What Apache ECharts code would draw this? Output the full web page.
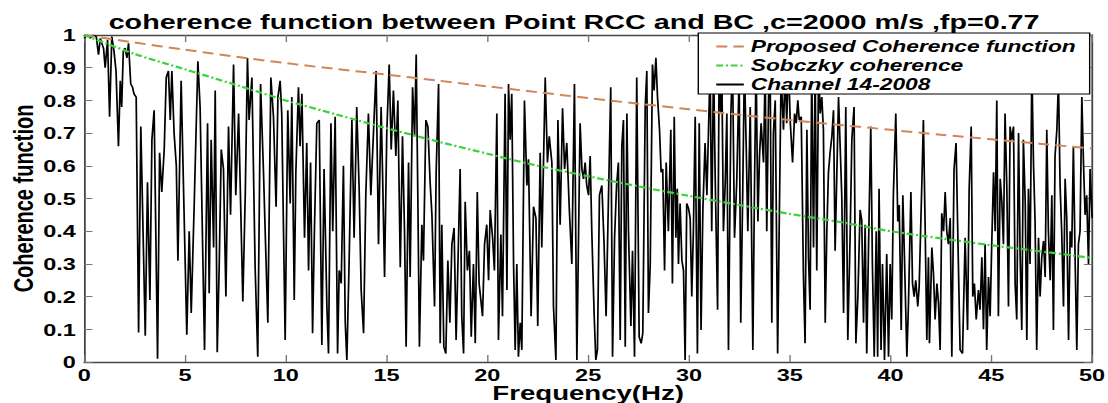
<!DOCTYPE html>
<html>
<head>
<meta charset="utf-8">
<title>coherence function</title>
<script src="https://cdn.jsdelivr.net/npm/echarts@6/dist/echarts.min.js"></script>
<style>
  html, body { margin: 0; padding: 0; background: #fff; overflow: hidden; }
  /* the source figure is stretched sideways, so the chart is drawn narrower and widened */
  #chart { width: 803px; height: 403px; transform: scaleX(1.38); transform-origin: 0 0; }
</style>
</head>
<body>
<div id="chart"></div>
<script>
const FONT = "'Liberation Sans', Arial, sans-serif";

const xTicks = [0, 5, 10, 15, 20, 25, 30, 35, 40, 45, 50];

// smooth model curves, read every 2.5 Hz
const curveFreq = [0, 2.5, 5, 7.5, 10, 12.5, 15, 17.5, 20, 22.5, 25, 27.5, 30, 32.5, 35, 37.5, 40, 42.5, 45, 47.5, 50];
const proposedCoh = [1.0, 0.977, 0.955, 0.934, 0.914, 0.896, 0.879, 0.861, 0.843, 0.825, 0.807, 0.79, 0.773, 0.756, 0.74, 0.725, 0.71, 0.695, 0.681, 0.667, 0.653];
const sobczkyCoh = [1.0, 0.942, 0.895, 0.848, 0.8, 0.757, 0.715, 0.675, 0.637, 0.6, 0.568, 0.537, 0.508, 0.48, 0.453, 0.428, 0.4, 0.378, 0.357, 0.338, 0.318];

// measured coherence, channel 14-2008: [Hz, coherence], one array per 5 Hz band
const band00 = [[0,0.99],[0.15,1.0],[0.3,0.99],[0.45,1.0],[0.6,0.995],[0.71,0.94],[0.8,0.99],[0.9,0.97],[0.96,0.96],[1.04,0.9],[1.16,0.985],[1.26,0.75],[1.37,0.995],[1.48,0.95],[1.58,0.89],[1.7,0.66],[1.79,0.86],[1.86,0.78],[1.94,0.95],[2.03,0.96],[2.12,0.93],[2.2,0.975],[2.31,0.85],[2.4,0.84],[2.47,0.82],[2.58,0.81],[2.7,0.09],[2.81,0.72],[2.92,0.4],[3.03,0.08],[3.14,0.55],[3.26,0.19],[3.36,0.68],[3.47,0.77],[3.64,0.01],[3.74,0.64],[3.85,0.52],[3.97,0.65],[4.07,0.87],[4.18,0.89],[4.27,0.74],[4.35,0.89],[4.46,0.7],[4.57,0.6],[4.65,0.31],[4.81,0.86]];
const band05 = [[5.09,0.083],[5.21,0.4],[5.31,0.15],[5.47,0.51],[5.64,0.92],[5.75,0.78],[5.97,0.037],[6.12,0.73],[6.2,0.21],[6.3,0.68],[6.42,0.35],[6.5,0.83],[6.6,0.03],[6.7,0.3],[6.8,0.65],[6.91,0.59],[7.03,0.2],[7.16,0.72],[7.26,0.45],[7.41,0.91],[7.52,0.51],[7.66,0.76],[7.87,0.185],[7.99,0.51],[8.1,0.93],[8.18,0.74],[8.32,0.87],[8.48,0.29],[8.61,0.016],[8.75,0.85],[8.89,0.59],[9.11,0.12],[9.26,0.87],[9.39,0.75],[9.52,0.475],[9.61,0.81],[9.72,0.86],[9.8,0.76],[9.97,0.067]];
const band10 = [[10.1,0.77],[10.22,0.485],[10.3,0.81],[10.42,0.19],[10.5,0.58],[10.63,0.84],[10.71,0.66],[10.8,0.82],[10.93,0.38],[11.04,0.67],[11.13,0.28],[11.23,0.61],[11.33,0.088],[11.42,0.4],[11.54,0.73],[11.66,0.74],[11.79,0.052],[11.9,0.59],[12.04,0.17],[12.12,0.026],[12.24,0.73],[12.33,0.4],[12.45,0.75],[12.57,0.026],[12.65,0.28],[12.75,0.24],[12.86,0.6],[12.95,0.12],[13.03,0.006],[13.14,0.3],[13.28,0.74],[13.39,0.38],[13.52,0.78],[13.64,0.53],[13.74,0.22],[13.86,0.088],[13.97,0.51],[14.1,0.76],[14.22,0.51],[14.35,0.7],[14.48,0.89],[14.6,0.36],[14.73,0.78],[14.8,0.58],[14.9,0.26]];
const band15 = [[15.01,0.7],[15.13,0.91],[15.23,0.65],[15.34,0.83],[15.46,0.63],[15.56,0.8],[15.68,0.29],[15.79,0.69],[15.89,0.4],[15.97,0.047],[16.09,0.61],[16.17,0.26],[16.29,0.84],[16.39,0.69],[16.47,0.94],[16.55,0.51],[16.63,0.047],[16.75,0.42],[16.83,0.31],[16.95,0.74],[17.05,0.72],[17.16,0.55],[17.25,0.45],[17.38,0.17],[17.46,0.58],[17.58,0.85],[17.66,0.057],[17.74,0.42],[17.84,0.047],[17.94,0.026],[18.04,0.31],[18.14,0.12],[18.24,0.36],[18.35,0.41],[18.45,0.067],[18.54,0.3],[18.65,0.59],[18.73,0.14],[18.82,0.026],[18.9,0.49],[19.01,0.28],[19.11,0.34],[19.2,0.077],[19.31,0.3],[19.4,0.057],[19.5,0.52],[19.59,0.24],[19.66,0.2],[19.76,0.14],[19.86,0.36],[19.97,0.42]];
const band20 = [[20.06,0.25],[20.14,0.465],[20.26,0.38],[20.35,0.28],[20.47,0.76],[20.55,0.067],[20.67,0.39],[20.75,0.14],[20.88,0.82],[20.97,0.22],[21.05,0.85],[21.13,0.68],[21.21,0.82],[21.3,0.3],[21.38,0.037],[21.46,0.3],[21.54,0.016],[21.63,0.12],[21.71,0.037],[21.84,0.8],[21.96,0.54],[22.04,0.62],[22.17,0.14],[22.29,0.475],[22.41,0.44],[22.5,0.11],[22.62,0.64],[22.7,0.35],[22.87,0.87],[22.98,0.61],[23.07,0.69],[23.2,0.61],[23.28,0.17],[23.4,0.006],[23.5,0.74],[23.61,0.42],[23.73,0.776],[23.83,0.59],[23.94,0.67],[24.06,0.475],[24.19,0.3],[24.32,0.85],[24.44,0.006],[24.6,0.73],[24.69,0.59],[24.77,0.56],[24.85,0.61],[24.93,0.54]];
const band25 = [[25.02,0.51],[25.1,0.63],[25.18,0.4],[25.3,0.14],[25.38,0.006],[25.46,0.037],[25.56,0.51],[25.68,0.54],[25.79,0.36],[25.89,0.14],[26.01,0.51],[26.12,0.84],[26.21,0.016],[26.31,0.38],[26.41,0.54],[26.5,0.61],[26.59,0.067],[26.67,0.66],[26.75,0.74],[26.84,0.047],[26.92,0.76],[27,0.4],[27.12,0.11],[27.2,0.34],[27.3,0.016],[27.41,0.87],[27.53,0.077],[27.63,0.057],[27.71,0.088],[27.83,0.78],[27.91,0.89],[27.99,0.15],[28.08,0.3],[28.19,0.91],[28.27,0.83],[28.36,0.93],[28.44,0.81],[28.54,0.71],[28.62,0.58],[28.7,0.59],[28.79,0.28],[28.87,0.61],[28.98,0.4],[29.1,0.71],[29.18,0.24],[29.27,0.75],[29.35,0.38],[29.42,0.53],[29.48,0.3],[29.56,0.485],[29.65,0.31],[29.73,0.28],[29.81,0.006],[29.89,0.485]];
const band30 = [[29.98,0.47],[30.06,0.44],[30.14,0.2],[30.22,0.4],[30.31,0.75],[30.42,0.026],[30.51,0.73],[30.6,0.098],[30.69,0.465],[30.8,0.67],[30.89,0.51],[30.97,0.71],[31.05,0.9],[31.13,0.4],[31.22,0.92],[31.3,0.57],[31.42,0.16],[31.5,0.93],[31.58,0.76],[31.63,0.9],[31.71,0.4],[31.8,0.55],[31.88,0.76],[31.96,0.037],[32.08,0.76],[32.16,0.92],[32.26,0.38],[32.37,0.55],[32.49,0.88],[32.57,0.12],[32.67,0.53],[32.75,0.91],[32.84,0.66],[32.92,0.4],[33.04,0.78],[33.17,0.037],[33.25,0.53],[33.33,0.92],[33.42,0.43],[33.5,0.63],[33.58,0.73],[33.7,0.61],[33.78,0.9],[33.86,0.4],[33.95,0.81],[34.03,0.88],[34.11,0.12],[34.19,0.7],[34.28,0.8],[34.4,0.026],[34.57,0.88],[34.69,0.71],[34.77,0.9],[34.85,0.73],[34.94,0.92]];
const band35 = [[35.02,0.74],[35.14,0.61],[35.24,0.76],[35.32,0.73],[35.4,0.8],[35.47,0.74],[35.57,0.75],[35.68,0.26],[35.76,0.057],[35.85,0.71],[35.93,0.32],[36.01,0.16],[36.09,0.9],[36.18,0.35],[36.26,0.91],[36.34,0.28],[36.43,0.9],[36.51,0.76],[36.59,0.81],[36.67,0.71],[36.76,0.12],[36.84,0.4],[36.92,0.58],[37,0.64],[37.09,0.69],[37.17,0.77],[37.25,0.34],[37.33,0.56],[37.42,0.81],[37.5,0.66],[37.58,0.51],[37.67,0.15],[37.78,0.78],[37.88,0.067],[38,0.4],[38.08,0.68],[38.19,0.78],[38.28,0.057],[38.38,0.2],[38.49,0.465],[38.57,0.435],[38.66,0.12],[38.74,0.42],[38.82,0.026],[38.91,0.36],[39.02,0.72],[39.1,0.3],[39.19,0.016],[39.29,0.4],[39.36,0.016],[39.43,0.53],[39.53,0.037],[39.6,0.3],[39.7,0.006],[39.81,0.33],[39.9,0.016],[39.98,0.3]];
const band40 = [[40.06,0.13],[40.14,0.51],[40.26,0.76],[40.36,0.43],[40.43,0.48],[40.53,0.098],[40.61,0.51],[40.69,0.32],[40.81,0.016],[40.89,0.18],[41.01,0.52],[41.09,0.24],[41.17,0.2],[41.25,0.25],[41.35,0.17],[41.42,0.23],[41.55,0.54],[41.63,0.74],[41.72,0.4],[41.8,0.067],[41.88,0.32],[41.93,0.057],[42.05,0.35],[42.13,0.27],[42.21,0.13],[42.3,0.24],[42.38,0.18],[42.46,0.037],[42.54,0.455],[42.63,0.4],[42.71,0.52],[42.79,0.4],[42.87,0.36],[42.96,0.44],[43.04,0.016],[43.15,0.59],[43.25,0.67],[43.34,0.38],[43.45,0.037],[43.57,0.026],[43.7,0.38],[43.82,0.098],[43.9,0.53],[44,0.72],[44.08,0.2],[44.16,0.24],[44.25,0.13],[44.36,0.22],[44.44,0.16],[44.53,0.32],[44.61,0.1],[44.69,0.36],[44.77,0.037],[44.86,0.26],[44.94,0.14]];
const band45 = [[45.02,0.36],[45.11,0.58],[45.19,0.4],[45.27,0.8],[45.35,0.14],[45.44,0.56],[45.52,0.49],[45.6,0.36],[45.68,0.76],[45.77,0.53],[45.85,0.17],[45.93,0.72],[46.01,0.68],[46.1,0.72],[46.18,0.24],[46.26,0.13],[46.35,0.7],[46.43,0.32],[46.51,0.098],[46.59,0.68],[46.68,0.49],[46.76,0.067],[46.84,0.53],[46.92,0.3],[47.01,0.9],[47.09,0.61],[47.17,0.43],[47.25,0.037],[47.34,0.38],[47.42,0.2],[47.5,0.32],[47.59,0.37],[47.67,0.26],[47.75,0.71],[47.83,0.4],[47.92,0.25],[48,0.51],[48.08,0.098],[48.16,0.63],[48.25,0.71],[48.33,0.86],[48.41,0.54],[48.49,0.4],[48.58,0.17],[48.66,0.56],[48.74,0.44],[48.83,0.067],[48.91,0.4],[48.99,0.35],[49.07,0.66],[49.16,0.3],[49.24,0.037],[49.32,0.36],[49.4,0.4],[49.49,0.81],[49.57,0.61],[49.65,0.45],[49.73,0.51],[49.82,0.3],[49.9,0.59],[50,0.44]];

const channelData = [].concat(band00, band05, band10, band15, band20, band25, band30, band35, band40, band45);
const proposedData = curveFreq.map((f, i) => [f, proposedCoh[i]]);
const sobczkyData = curveFreq.map((f, i) => [f, sobczkyCoh[i]]);

const chart = echarts.init(document.getElementById('chart'), null, { renderer: 'svg' });

const boxLine = { show: true, onZero: false, lineStyle: { color: '#444', width: 1.3 } };
const labelStyle = { color: '#000', fontWeight: 'bold', fontSize: 17, fontFamily: FONT };
const nameStyle = { color: '#000', fontWeight: 'bold', fontSize: 20, fontFamily: FONT };

chart.setOption({
  animation: false,
  backgroundColor: '#fff',
  title: {
    text: 'coherence function between Point RCC and BC ,c=2000 m/s ,fp=0.77',
    left: 416,
    top: 11,
    padding: 0,
    textAlign: 'center',
    textStyle: { color: '#000', fontWeight: 'bold', fontSize: 20.8, fontFamily: FONT }
  },
  legend: {
    data: ['Proposed Coherence function', 'Sobczky coherence', 'Channel 14-2008'],
    orient: 'vertical',
    left: 506,
    top: 33,
    padding: [5, 10, 1, 12],
    itemGap: 2,
    itemWidth: 20,
    itemHeight: 1,
    borderColor: '#000',
    borderWidth: 1,
    borderRadius: 0,
    backgroundColor: '#fff',
    textStyle: { color: '#000', fontSize: 16.5, fontStyle: 'italic', fontWeight: 'bold', fontFamily: FONT }
  },
  grid: {
    left: 61,
    right: 11.6,
    top: 35,
    bottom: 41,
    containLabel: false,
    outerBoundsMode: 'none'
  },
  xAxis: [
    {
      type: 'value',
      min: 0,
      max: 50,
      interval: 5,
      position: 'bottom',
      axisLine: boxLine,
      axisTick: { show: true, inside: true, length: 7, lineStyle: { color: '#777' } },
      axisLabel: Object.assign({ margin: 4, formatter: v => xTicks.includes(v) ? String(v) : '' }, labelStyle),
      splitLine: { show: false },
      name: 'Frequency(Hz)',
      nameLocation: 'middle',
      nameGap: 21,
      nameMoveOverlap: false,
      nameTextStyle: nameStyle
    },
    {
      type: 'value',
      min: 0,
      max: 50,
      interval: 5,
      position: 'top',
      axisLine: boxLine,
      axisTick: { show: true, inside: true, length: 7, lineStyle: { color: '#777' } },
      axisLabel: { show: false },
      splitLine: { show: false }
    }
  ],
  yAxis: [
    {
      type: 'value',
      min: 0,
      max: 1,
      interval: 0.1,
      position: 'left',
      axisLine: boxLine,
      axisTick: { show: true, inside: true, length: 6, lineStyle: { color: '#777' } },
      axisLabel: Object.assign({ margin: 6 }, labelStyle),
      splitLine: { show: false },
      name: 'Coherence function',
      nameLocation: 'middle',
      nameRotate: 90,
      nameGap: 34,
      nameMoveOverlap: false,
      nameTextStyle: nameStyle
    },
    {
      type: 'value',
      min: 0,
      max: 1,
      interval: 0.1,
      position: 'right',
      axisLine: boxLine,
      axisTick: { show: true, inside: true, length: 6, lineStyle: { color: '#777' } },
      axisLabel: { show: false },
      splitLine: { show: false }
    }
  ],
  series: [
    {
      name: 'Channel 14-2008',
      type: 'line',
      data: channelData,
      symbol: 'none',
      lineStyle: { color: '#000', width: 1.25 },
      itemStyle: { color: '#000' },
      z: 2
    },
    {
      name: 'Proposed Coherence function',
      type: 'line',
      data: proposedData,
      smooth: 0.3,
      symbol: 'none',
      lineStyle: { color: '#d2845a', width: 2, type: [8, 4.5] },
      itemStyle: { color: '#d2845a' },
      z: 3
    },
    {
      name: 'Sobczky coherence',
      type: 'line',
      data: sobczkyData,
      smooth: 0.3,
      symbol: 'none',
      lineStyle: { color: '#3cd23c', width: 2.2, type: [5, 2, 1.5, 2] },
      itemStyle: { color: '#3cd23c' },
      z: 3
    }
  ]
});
</script>
</body>
</html>
